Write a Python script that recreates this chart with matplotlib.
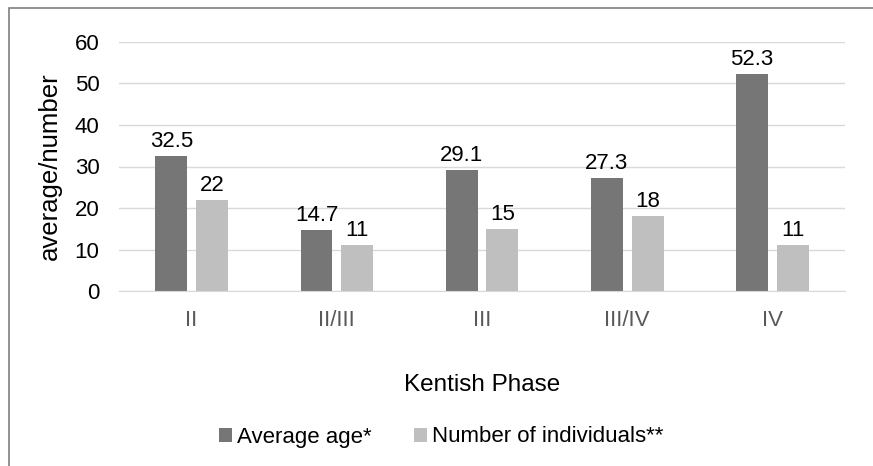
import matplotlib.pyplot as plt
import numpy as np
from matplotlib.patches import Rectangle

phases = ['II', 'II/III', 'III', 'III/IV', 'IV']
avg_age = [32.5, 14.7, 29.1, 27.3, 52.3]
n_individuals = [22, 11, 15, 18, 11]

plt.rcParams['font.family'] = ['Liberation Sans', 'DejaVu Sans']

fig = plt.figure(figsize=(8.73, 4.66), dpi=100)
ax = fig.add_axes([119 / 873, 1 - 291 / 466, 726 / 873, 249 / 466])

x = np.arange(len(phases))
w = 0.22
off = 0.14
b1 = ax.bar(x - off, avg_age, w, color='#767676', label='Average age*', zorder=2)
b2 = ax.bar(x + off, n_individuals, w, color='#bfbfbf', label='Number of individuals**', zorder=2)

for bars, vals, fmt in [(b1, avg_age, '{:.1f}'), (b2, n_individuals, '{:d}')]:
    for r, v in zip(bars, vals):
        ax.text(r.get_x() + r.get_width() / 2, v + 1.0, fmt.format(v),
                ha='center', va='bottom', fontsize=16, color='black')

ax.set_xlim(-0.5, len(phases) - 0.5)
ax.set_ylim(0, 60)
ax.set_yticks(range(0, 61, 10))
ax.set_xticks(x)
ax.set_xticklabels(phases, color='#595959')
ax.tick_params(axis='both', length=0, labelsize=16)
ax.tick_params(axis='x', pad=14)
ax.tick_params(axis='y', pad=14)
ax.grid(axis='y', color='#d9d9d9', linewidth=1, zorder=0)
for s in ['top', 'right', 'left']:
    ax.spines[s].set_visible(False)
ax.spines['bottom'].set_color('#d9d9d9')

ax.set_ylabel('average/number', fontsize=18.5, labelpad=9)
fig.text(482 / 873, 1 - 385 / 466, 'Kentish Phase', ha='center', va='center', fontsize=17.5)

fig.legend(loc='center', bbox_to_anchor=(441 / 873, 1 - 437 / 466), ncol=2, frameon=False,
           fontsize=16, handlelength=0.6, handleheight=0.6, handletextpad=0.2, columnspacing=1.9)

# outer frame
fig.patches.append(Rectangle((9 / 873, -0.1), 1.2, 1 - 8 / 466 + 0.1, transform=fig.transFigure,
                             fill=False, edgecolor='#7f7f7f', linewidth=1.2))

plt.savefig('out.png', dpi=100)
